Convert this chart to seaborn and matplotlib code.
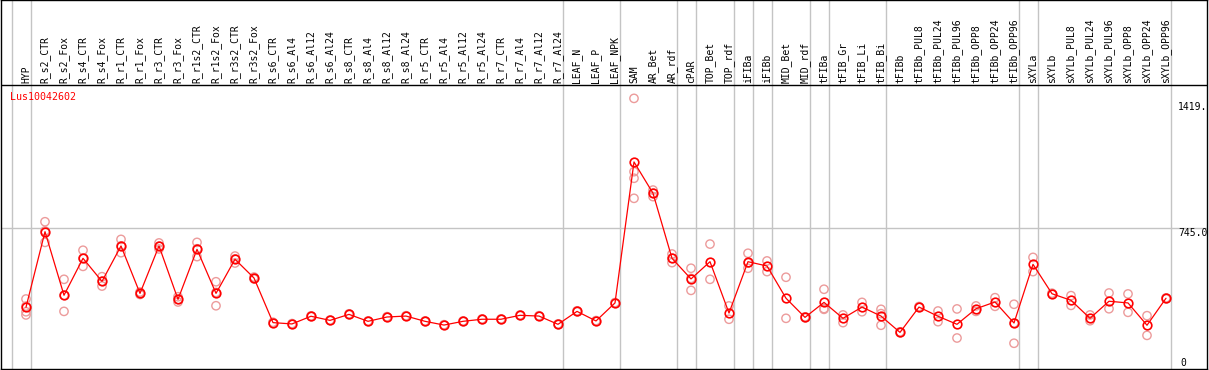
import numpy as np
import pandas as pd
import matplotlib
matplotlib.use("Agg")
import matplotlib.pyplot as plt
import seaborn as sns

# categories along the x axis
cats = [
    "HYP", "R_s2_CTR", "R_s2_Fox", "R_s4_CTR", "R_s4_Fox", "R_r1_CTR", "R_r1_Fox",
    "R_r3_CTR", "R_r3_Fox", "R_r1s2_CTR", "R_r1s2_Fox", "R_r3s2_CTR", "R_r3s2_Fox",
    "R_s6_CTR", "R_s6_Al4", "R_s6_Al12", "R_s6_Al24", "R_s8_CTR", "R_s8_Al4",
    "R_s8_Al12", "R_s8_Al24", "R_r5_CTR", "R_r5_Al4", "R_r5_Al12", "R_r5_Al24",
    "R_r7_CTR", "R_r7_Al4", "R_r7_Al12", "R_r7_Al24", "LEAF_N", "LEAF_P", "LEAF_NPK",
    "SAM", "AR_Bet", "AR_rdf", "cPAR", "TOP_Bet", "TOP_rdf", "iFIBa", "iFIBb",
    "MID_Bet", "MID_rdf", "tFIBa", "tFIB_Gr", "tFIB_Li", "tFIB_Bi", "tFIBb",
    "tFIBb_PUL8", "tFIBb_PUL24", "tFIBb_PUL96", "tFIBb_OPP8", "tFIBb_OPP24",
    "tFIBb_OPP96", "sXYLa", "sXYLb", "sXYLb_PUL8", "sXYLb_PUL24", "sXYLb_PUL96",
    "sXYLb_OPP8", "sXYLb_OPP24", "sXYLb_OPP96",
]

# mean expression per category
mean_vals = [
    324, 727, 388, 585, 462, 651, 398, 651, 366, 633, 398, 580, 480,
    242, 235, 276, 254, 286, 249, 272, 277, 249, 229, 249, 260,
    260, 281, 277, 233, 302, 251, 347,
    1099, 932, 585, 475, 567, 293, 567, 544, 372, 270, 350,
    265, 325, 277, 190, 325, 276, 233, 316, 352, 240,
    553, 396, 361, 265, 356, 347, 228, 372,
]

# individual replicates per category
rep_vals = [
    [368, 330, 300, 283], [780, 731, 670], [473, 388, 302], [628, 585, 542],
    [487, 463, 437], [686, 651, 615], [405, 398, 392], [667, 650, 635],
    [380, 366, 352], [670, 636, 594], [460, 403, 332], [597, 582, 560],
    [485, 480, 475], [244, 241], [237, 233], [278, 274], [256, 253],
    [289, 284], [251, 247], [274, 270], [279, 276], [251, 247], [231, 228],
    [251, 247], [262, 258], [262, 258], [283, 279], [279, 276], [235, 231],
    [305, 300], [253, 249], [349, 345],
    [1438, 1047, 1012, 905], [949, 932, 914], [608, 585, 562], [532, 478, 414],
    [661, 473], [331, 260], [612, 560, 532], [571, 514], [484, 265], [273, 268],
    [420, 317, 313], [283, 242], [350, 300], [313, 290, 228], [193, 188],
    [328, 323], [304, 247], [315, 160], [331, 302], [375, 329], [340, 240, 132],
    [590, 514], [399, 394], [386, 334], [283, 252], [400, 316], [395, 297],
    [279, 174], [374, 369],
]

# index of the last category in each group (-1 = left edge)
group_ends = [-1, 0, 28, 31, 34, 35, 37, 38, 39, 41, 42, 45, 52, 53, 60]

gene_id = "Lus10042602"
y_marks = [1419, 745]
y_mark_labels = ["1419.", "745.0"]

# layout (pixel mapping of the reference)
W, H = 1209, 370
X0_PX, DX_PX = 26, 19
ZERO_PX, PX_PER_UNIT = 368, 0.1875
HEADER_PX = 85.5

def py(px):
    return (ZERO_PX - px) / PX_PER_UNIT

def px_x(px):
    return (px - X0_PX) / DX_PX

sns.set_style("white")
plt.rcParams["font.family"] = ["DejaVu Sans Mono", "DejaVu Sans"]

RED = "#ff0000"
PINK = "#ec9b9b"
GRID = "#c4c4c4"

fig = plt.figure(figsize=(W / 100, H / 100), dpi=100)
ax = fig.add_axes([1 / W, 1 / H, 1206 / W, 369 / H])
ax.set_xlim(px_x(1), px_x(1207))
ax.set_ylim(py(369), py(0))

pos = np.arange(len(cats))
reps = pd.DataFrame(
    [(i, v) for i, vals in enumerate(rep_vals) for v in vals],
    columns=["pos", "value"],
)
means = pd.DataFrame({"pos": pos, "value": mean_vals})

# grid: group separators and reference level
for g in group_ends:
    ax.axvline(g + 4.5 / DX_PX, color=GRID, lw=1.0, zorder=0)
ax.axhline(745, color=GRID, lw=1.0, zorder=0)
ax.axhline(py(HEADER_PX), color="black", lw=1.0, zorder=1)

sns.scatterplot(data=reps, x="pos", y="value", ax=ax, color=PINK,
                facecolor="none", edgecolor=PINK, s=36, linewidth=1.0,
                zorder=2, legend=False)
sns.lineplot(data=means, x="pos", y="value", ax=ax, color=RED, lw=0.9,
             marker="o", markersize=6.2, markerfacecolor="none",
             markeredgecolor=RED, markeredgewidth=1.2, zorder=3)

for i, c in enumerate(cats):
    ax.text(i, py(83), c, rotation=90, ha="center", va="bottom",
            fontsize=7, color="black")

ax.text(px_x(10), py(97), gene_id, ha="left", va="center", fontsize=7.2, color=RED)
for v, lab in zip(y_marks, y_mark_labels):
    ax.text(px_x(1178), v, lab, ha="left", va="top", fontsize=7, color="black")
ax.text(px_x(1180), 0, "0", ha="left", va="bottom", fontsize=7, color="black")

ax.set_xticks([])
ax.set_yticks([])
ax.set_xlabel("")
ax.set_ylabel("")
for s in ax.spines.values():
    s.set_color("black")
    s.set_linewidth(1.0)

fig.savefig("out.png", dpi=100)
